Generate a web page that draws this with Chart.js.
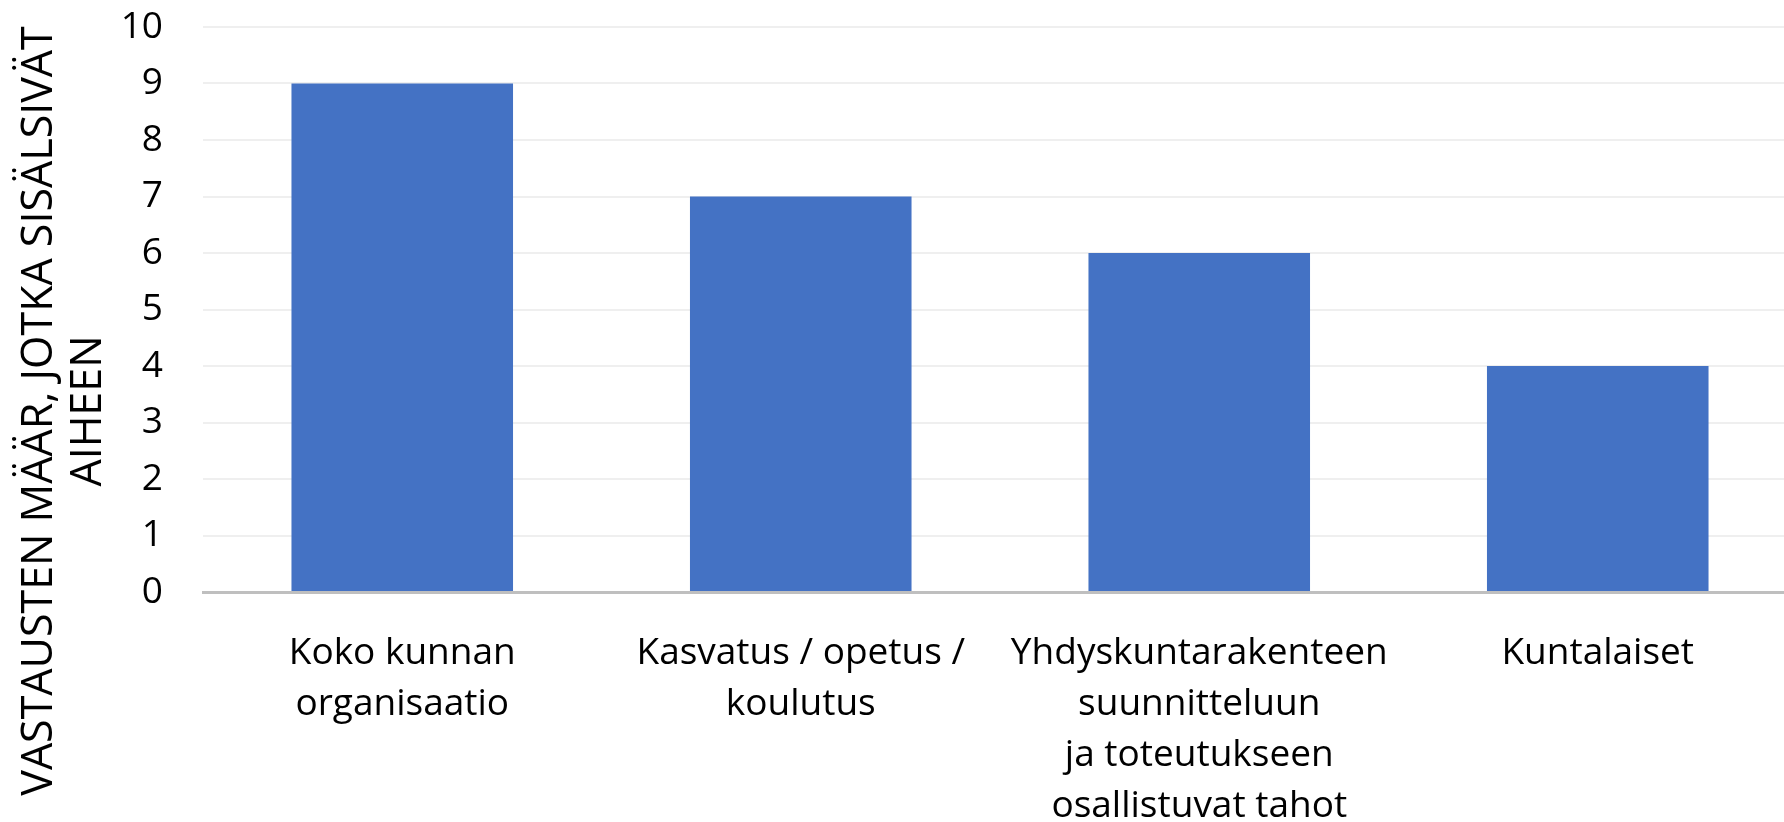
<!DOCTYPE html>
<html lang="fi">

<head>
    <meta charset="UTF-8">
    <meta name="viewport" content="width=device-width, initial-scale=1.0">
    <title>Vastausten määrä aiheittain</title>
    <script src="https://cdn.jsdelivr.net/npm/chart.js"></script>
    <style>
        html, body { margin: 0; padding: 0; overflow: hidden; background: #ffffff; }
        canvas { display: block; }
    </style>
</head>

<body>
    <canvas id="aiheChart" width="1797" height="822"></canvas>

    <script>
        // Data
        var kategoriat = [
            ['Koko kunnan', 'organisaatio'],
            ['Kasvatus / opetus /', 'koulutus'],
            ['Yhdyskuntarakenteen', 'suunnitteluun', 'ja toteutukseen', 'osallistuvat tahot'],
            ['Kuntalaiset']
        ];
        var vastaukset = [9, 7, 6, 4];
        var yMin = 0;
        var yMax = 10;
        var yAskel = 1;
        var yOtsikko = ['VASTAUSTEN MÄÄR, JOTKA SISÄLSIVÄT', 'AIHEEN'];

        var fontti = '"Open Sans", "Noto Sans", sans-serif';

        // Pystyakselin otsikko piirretään itse, keskitettynä koko kuvan korkeudelle
        var akselinOtsikko = {
            id: 'akselinOtsikko',
            afterDraw: function (chart) {
                var ctx = chart.ctx;
                ctx.save();
                ctx.translate(0, chart.height / 2);
                ctx.rotate(-Math.PI / 2);
                ctx.font = '43px ' + fontti;
                ctx.fillStyle = '#000000';
                ctx.textAlign = 'center';
                ctx.textBaseline = 'middle';
                ctx.fillText(yOtsikko[0], 0, 40);
                ctx.fillText(yOtsikko[1], 0, 89);
                ctx.restore();
            }
        };

        var ctx = document.getElementById('aiheChart').getContext('2d');
        var chart = new Chart(ctx, {
            type: 'bar',
            data: {
                labels: kategoriat,
                datasets: [{
                    data: vastaukset,
                    backgroundColor: '#4472C4',
                    borderWidth: 0,
                    barPercentage: 0.556,
                    categoryPercentage: 1
                }]
            },
            options: {
                responsive: false,
                animation: false,
                layout: {
                    padding: { top: 27, left: 0, right: 0, bottom: 0 }
                },
                plugins: {
                    legend: { display: false },
                    tooltip: { enabled: false }
                },
                scales: {
                    x: {
                        z: 1,
                        grid: { display: false, drawTicks: false },
                        border: { display: true, color: '#bfbfbf', width: 3 },
                        ticks: {
                            color: '#000000',
                            padding: 36,
                            maxRotation: 0,
                            autoSkip: false,
                            font: { family: fontti, size: 37, lineHeight: 1.38 }
                        },
                        afterFit: function (scale) {
                            scale.height = 230;
                            scale.paddingTop = 0;
                            scale.paddingBottom = 0;
                        }
                    },
                    y: {
                        min: yMin,
                        max: yMax,
                        grid: { color: '#efefef', lineWidth: 2, drawTicks: false },
                        border: { display: false },
                        ticks: {
                            stepSize: yAskel,
                            color: '#000000',
                            padding: 40,
                            font: { family: fontti, size: 37 }
                        },
                        afterFit: function (scale) {
                            scale.width = 203;
                            scale.paddingTop = 0;
                            scale.paddingBottom = 0;
                        }
                    }
                }
            },
            plugins: [akselinOtsikko]
        });
    </script>
</body>

</html>
